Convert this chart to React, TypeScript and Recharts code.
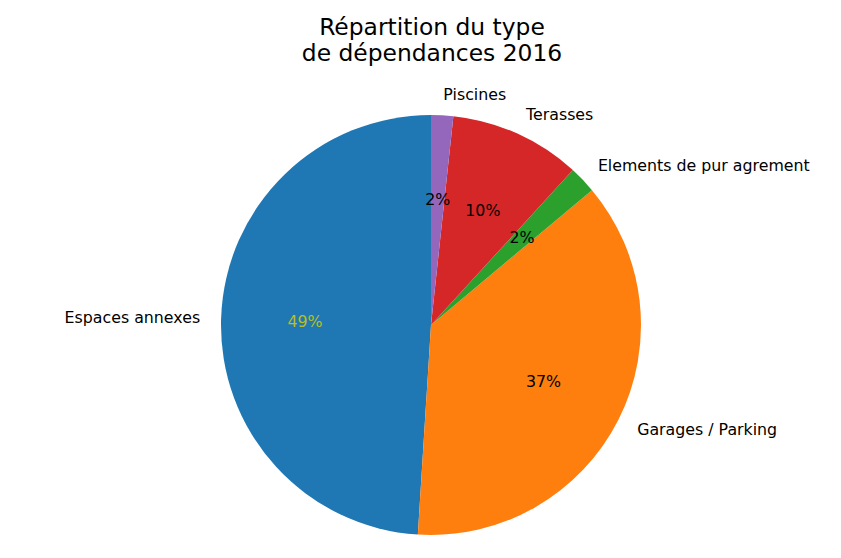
import React from "react";
import { PieChart, Pie, Cell } from "recharts";

const categories = ["Espaces annexes", "Garages / Parking", "Elements de pur agrement", "Terasses", "Piscines"];
const values = [49.0, 37.1, 2.1, 10.1, 1.7];
const percentLabels = ["49%", "37%", "2%", "10%", "2%"];
const colors = ["#1f77b4", "#ff7f0e", "#2ca02c", "#d62728", "#9467bd"];
const percentColors = ["#bcbd22", "#000000", "#000000", "#000000", "#000000"];

const data = categories.map((name, i) => ({ name, value: values[i], pct: percentLabels[i] }));

const RAD = Math.PI / 180;
const FONT = "DejaVu Sans, sans-serif";

const renderLabel = (props: any) => {
  const { cx, cy, midAngle, outerRadius, index } = props;
  const cos = Math.cos(-midAngle * RAD);
  const sin = Math.sin(-midAngle * RAD);
  const lx = cx + outerRadius * 1.1 * cos;
  const ly = cy + outerRadius * 1.1 * sin;
  const px = cx + outerRadius * 0.6 * cos;
  const py = cy + outerRadius * 0.6 * sin;
  return (
    <g>
      <text x={lx} y={ly} textAnchor={cos >= 0 ? "start" : "end"} dominantBaseline="central" fontFamily={FONT} fontSize={15.8} fill="#000">
        {categories[index]}
      </text>
      <text x={px} y={py} textAnchor="middle" dominantBaseline="central" fontFamily={FONT} fontSize={15.8} fill={percentColors[index]}>
        {percentLabels[index]}
      </text>
    </g>
  );
};

export default function App() {
  return (
    <div style={{ position: "absolute", left: 0, top: 0, width: 841, height: 558, background: "#fff" }}>
      <PieChart width={841} height={558} margin={{ top: 0, right: 0, bottom: 0, left: 0 }}>
        <text x={432} y={35} textAnchor="middle" fontFamily={FONT} fontSize={23.4} fill="#000">Répartition du type</text>
        <text x={432} y={61} textAnchor="middle" fontFamily={FONT} fontSize={23.4} fill="#000">de dépendances 2016</text>
        <Pie
          data={data}
          dataKey="value"
          nameKey="name"
          cx={431}
          cy={325}
          outerRadius={210}
          innerRadius={0}
          startAngle={90}
          endAngle={450}
          stroke="none"
          label={renderLabel}
          labelLine={false}
          isAnimationActive={false}
        >
          {data.map((d, i) => (
            <Cell key={d.name} fill={colors[i]} />
          ))}
        </Pie>
      </PieChart>
    </div>
  );
}
